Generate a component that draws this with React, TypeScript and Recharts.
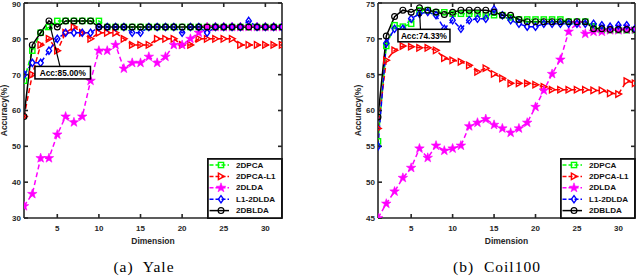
import React from 'react';
import { LineChart, Line, XAxis, YAxis } from 'recharts';

const dimensions = [1, 2, 3, 4, 5, 6, 7, 8, 9, 10, 11, 12, 13, 14, 15, 16, 17, 18, 19, 20, 21, 22, 23, 24, 25, 26, 27, 28, 29, 30, 31, 32];
const xTicks = [5, 10, 15, 20, 25, 30];
const yaleYTicks = [30, 40, 50, 60, 70, 80, 90];
const coilYTicks = [45, 50, 55, 60, 65, 70, 75];
const seriesNames = ['2DPCA', '2DPCA-L1', '2DLDA', 'L1-2DLDA', '2DBLDA'];

// Yale
const yale2DPCA = [68.3, 76.7, 81.7, 83.3, 85, 85, 85, 85, 85, 85, 83.3, 83.3, 83.3, 83.3, 83.3, 83.3, 83.3, 83.3, 83.3, 83.3, 83.3, 83.3, 83.3, 83.3, 83.3, 83.3, 83.3, 83.3, 83.3, 83.3, 83.3, 83.3];
const yale2DPCAL1 = [58.3, 70, 78.3, 80, 76.7, 81.7, 83.3, 81.7, 80, 81.7, 81.7, 81.7, 80, 78.3, 78.3, 78.3, 80, 80, 80, 78.3, 78.3, 80, 80, 80, 80, 80, 78.3, 78.3, 78.3, 78.3, 78.3, 78.3];
const yale2DLDA = [33.3, 36.7, 46.7, 46.7, 53.3, 58.3, 56.7, 58.3, 68.3, 76.7, 76.7, 78.3, 71.7, 73.3, 73.3, 75, 73.3, 75, 78.3, 78.3, 80, 81.7, 83.3, 83.3, 83.3, 83.3, 83.3, 83.3, 83.3, 83.3, 83.3, 83.3];
const yaleL12DLDA = [70, 73.3, 73.3, 76.7, 80, 81.7, 81.7, 81.7, 81.7, 83.3, 83.3, 83.3, 83.3, 81.7, 81.7, 83.3, 83.3, 83.3, 83.3, 81.7, 83.3, 83.3, 81.7, 83.3, 83.3, 83.3, 83.3, 85, 83.3, 83.3, 83.3, 83.3];
const yale2DBLDA = [58.3, 78.3, 81.7, 85, 83.3, 85, 85, 85, 85, 83.3, 83.3, 83.3, 83.3, 83.3, 83.3, 83.3, 83.3, 83.3, 83.3, 83.3, 83.3, 83.3, 83.3, 83.3, 83.3, 83.3, 83.3, 83.3, 83.3, 83.3, 83.3, 83.3];

// Coil100
const coil2DPCA = [55.7, 69, 71.9, 71.7, 72.1, 74, 74, 73.7, 73.7, 73.5, 73.5, 73.5, 73.5, 73.3, 73.3, 73.3, 73, 72.7, 72.7, 72.7, 72.7, 72.7, 72.7, 72.4, 72.4, 72.4, 71.7, 71.2, 71.2, 71.2, 71.2, 71.2];
const coil2DPCAL1 = [57.5, 67, 68.4, 69, 68.9, 68.75, 68.75, 68.4, 67.3, 67, 66.8, 66.3, 65.4, 65.9, 65.1, 64.5, 63.8, 63.8, 63.8, 63.6, 63.3, 62.9, 62.9, 62.9, 62.9, 62.9, 62.8, 62.8, 62.4, 62.3, 64.1, 63.8];
const coil2DLDA = [45, 47, 48.7, 50.6, 52, 54.7, 53.4, 55.1, 54.4, 54.7, 55.1, 57.8, 58.3, 58.8, 58, 57.5, 56.9, 57.5, 58.3, 60.5, 62.8, 65.1, 67.1, 71, 72.2, 70.7, 71, 71, 71.2, 71.2, 71.3, 71.3];
const coilL12DLDA = [55, 69.4, 71.4, 71.4, 72.8, 73.5, 73.75, 73.3, 71.4, 72.6, 71.4, 72.6, 72.8, 72.8, 74.1, 73.3, 72.6, 72.1, 71.7, 71.7, 72.1, 72.1, 72.1, 72.1, 72.1, 72.1, 72.1, 71.9, 71.7, 71.9, 71.9, 71.4];
const coil2DBLDA = [59.1, 70.4, 73.1, 74, 73.7, 74.33, 74, 73.75, 73.4, 73.7, 74, 74, 74, 74, 73.75, 73.3, 73.3, 72.7, 72.4, 72.4, 72.4, 72.4, 72.4, 72.4, 72.4, 72.4, 71.4, 71.4, 71.3, 71.3, 71.3, 71.3];

const styles = [
  { key: 's0', color: '#00ff00', marker: 'square', dash: '5 3' as string | undefined },
  { key: 's1', color: '#ff0000', marker: 'triangle', dash: '5 3' as string | undefined },
  { key: 's2', color: '#ff00ff', marker: 'star', dash: '5 3' as string | undefined },
  { key: 's3', color: '#0000ff', marker: 'diamond', dash: '5 3' as string | undefined },
  { key: 's4', color: '#000000', marker: 'circle', dash: undefined as string | undefined },
];

const buildRows = (series: number[][]) =>
  dimensions.map((d, i) => {
    const row: any = { dim: d };
    series.forEach((s, j) => { row['s' + j] = s[i]; });
    return row;
  });

const yaleRows = buildRows([yale2DPCA, yale2DPCAL1, yale2DLDA, yaleL12DLDA, yale2DBLDA]);
const coilRows = buildRows([coil2DPCA, coil2DPCAL1, coil2DLDA, coilL12DLDA, coil2DBLDA]);

function Marker({ kind, cx, cy, color }: any) {
  if (cx == null || cy == null) return <g />;
  switch (kind) {
    case 'square':
      return <rect x={cx - 2.6} y={cy - 2.6} width={5.2} height={5.2} fill="none" stroke={color} strokeWidth={1.4} />;
    case 'triangle':
      return <polygon points={`${cx - 2.6},${cy - 3.2} ${cx + 3.2},${cy} ${cx - 2.6},${cy + 3.2}`} fill="none" stroke={color} strokeWidth={1.4} />;
    case 'star': {
      const pts: string[] = [];
      for (let k = 0; k < 10; k++) {
        const r = k % 2 === 0 ? 5 : 2;
        const a = -Math.PI / 2 + (k * Math.PI) / 5;
        pts.push(`${cx + r * Math.cos(a)},${cy + r * Math.sin(a)}`);
      }
      return <polygon points={pts.join(' ')} fill={color} stroke={color} strokeWidth={0.6} />;
    }
    case 'diamond':
      return <polygon points={`${cx},${cy - 3.6} ${cx + 2.6},${cy} ${cx},${cy + 3.6} ${cx - 2.6},${cy}`} fill="none" stroke={color} strokeWidth={1.4} />;
    default:
      return <circle cx={cx} cy={cy} r={2.9} fill="none" stroke={color} strokeWidth={1.2} />;
  }
}

const LegendBox = ({ left }: any) => (
  <svg width={76} height={61} style={{ display: 'block', position: 'absolute', left, top: 158 }}>
    <rect x={0.9} y={0.9} width={74} height={59.2} fill="#fff" stroke="#111" strokeWidth={1.8} />
    {styles.map((s, i) => {
      const y = 7 + i * 11.4;
      return (
        <g key={s.key}>
          <line x1={2.5} y1={y} x2={22} y2={y} stroke={s.color} strokeWidth={1.5} strokeDasharray={s.dash ? '4 2' : undefined} />
          <Marker kind={s.marker} cx={14} cy={y} color={s.color} />
          <text x={29} y={y} dominantBaseline="central" fontFamily="Arial, Liberation Sans" fontWeight="bold" fontSize={8.1} fill="#111">
            {seriesNames[i]}
          </text>
        </g>
      );
    })}
  </svg>
);

function Note({ cx, cy, text, bx, by, bw, lx, ly }: any) {
  const x0 = cx + lx, y0 = cy + ly;
  const dx = cx - x0, dy = cy - y0;
  const len = Math.sqrt(dx * dx + dy * dy);
  const ux = dx / len, uy = dy / len;
  const tipX = cx - ux * 3.2, tipY = cy - uy * 3.2;
  const baseX = tipX - ux * 5, baseY = tipY - uy * 5;
  return (
    <g>
      <line x1={x0} y1={y0} x2={baseX} y2={baseY} stroke="#000" strokeWidth={1.2} />
      <polygon points={`${tipX},${tipY} ${baseX - uy * 2},${baseY + ux * 2} ${baseX + uy * 2},${baseY - ux * 2}`} fill="#000" />
      <rect x={cx + bx} y={cy + by} width={bw} height={12.5} fill="#fff" stroke="#000" strokeWidth={1.5} />
      <text x={cx + bx + bw / 2} y={cy + by + 6.5} textAnchor="middle" dominantBaseline="central" fontFamily="Arial, Liberation Sans" fontWeight="bold" fontSize={8.3} fill="#000">
        {text}
      </text>
    </g>
  );
}

const tickStyle = { fontSize: 8, fontWeight: 'bold', fill: '#262626', fontFamily: 'Arial, Liberation Sans' };
const emptyTick = () => <g />;

function Panel({ rows, yDomain, yTicks, marginLeft, marginRight, note }: any) {
  return (
    <LineChart width={320} height={250} data={rows} margin={{ top: 2, right: marginRight, left: marginLeft, bottom: 0 }}>
      <XAxis dataKey="dim" type="number" domain={[1, 32]} ticks={xTicks} allowDataOverflow
        tick={tickStyle} tickSize={-4} tickMargin={11} height={32} stroke="#262626" strokeWidth={1.6}
        label={{ value: 'Dimension', position: 'insideBottom', offset: 6, style: { fontSize: 8.5, fontWeight: 'bold', fill: '#262626', fontFamily: 'Arial, Liberation Sans' } }} />
      <XAxis xAxisId="top" orientation="top" dataKey="dim" type="number" domain={[1, 32]} ticks={xTicks} allowDataOverflow
        tick={emptyTick} tickSize={-4} height={1} stroke="#262626" strokeWidth={1.6} />
      <YAxis type="number" domain={yDomain} ticks={yTicks} allowDataOverflow width={24}
        tick={tickStyle} tickSize={-4} tickMargin={7} stroke="#262626" strokeWidth={1.6}
        label={{ value: 'Accuracy(%)', angle: -90, position: 'insideLeft', offset: 4, style: { textAnchor: 'middle', fontSize: 8.5, fontWeight: 'bold', fill: '#262626', fontFamily: 'Arial, Liberation Sans' } }} />
      <YAxis yAxisId="right" orientation="right" type="number" domain={yDomain} ticks={yTicks} allowDataOverflow width={1}
        tick={emptyTick} tickSize={-4} stroke="#262626" strokeWidth={1.6} />
      {styles.map((s, i) => (
        <Line key={s.key} dataKey={s.key} name={seriesNames[i]} type="linear" stroke={s.color} strokeWidth={1.5}
          strokeDasharray={s.dash} isAnimationActive={false}
          dot={(p: any) => (
            <g key={`${s.key}-${p.index}`}>
              <Marker kind={s.marker} cx={p.cx} cy={p.cy} color={s.color} />
              {i === 4 && p.payload && p.payload.dim === note.x && p.cx != null ? <Note cx={p.cx} cy={p.cy} {...note} /> : null}
            </g>
          )}
          activeDot={false} />
      ))}
    </LineChart>
  );
}

const captionStyle: React.CSSProperties = {
  position: 'absolute', top: 257, width: 200, textAlign: 'center', fontFamily: '"Liberation Serif", serif',
  fontSize: 15.5, letterSpacing: 1, color: '#000', whiteSpace: 'pre', lineHeight: '20px',
};

export default function App() {
  return (
    <div style={{ position: 'absolute', left: 0, top: 0, width: 640, height: 279, background: '#fff' }}>
      <div style={{ position: 'absolute', left: 0, top: 0 }}>
        <Panel rows={yaleRows} yDomain={[30, 90]} yTicks={yaleYTicks} marginLeft={0} marginRight={37}
          note={{ x: 4, text: 'Acc:85.00%', bx: -14, by: 45.5, bw: 55.5, lx: 11, ly: 45.5 }} />
      </div>
      <div style={{ position: 'absolute', left: 320, top: 0 }}>
        <Panel rows={coilRows} yDomain={[45, 75]} yTicks={coilYTicks} marginLeft={34} marginRight={4}
          note={{ x: 6, text: 'Acc:74.33%', bx: -21.5, by: 21.5, bw: 52, lx: 1, ly: 21.5 }} />
      </div>
      <LegendBox left={206.5} />
      <LegendBox left={560} />
      <div style={{ ...captionStyle, left: 44 }}>{'(a)  Yale'}</div>
      <div style={{ ...captionStyle, left: 397 }}>{'(b)  Coil100'}</div>
    </div>
  );
}
